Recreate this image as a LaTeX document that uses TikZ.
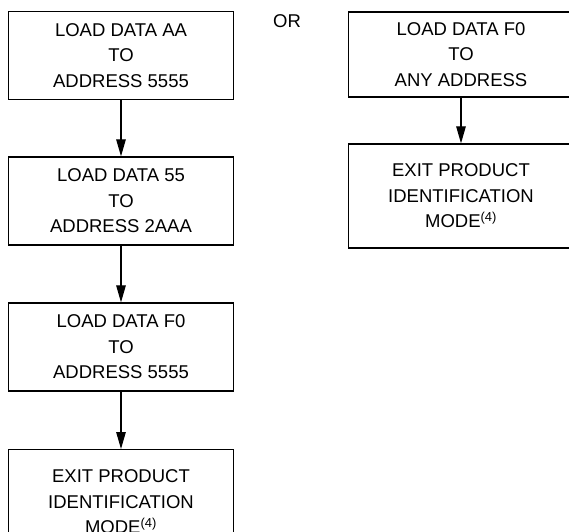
\documentclass[tikz,border=0pt]{standalone}
\usepackage{fontspec}
\setmainfont{Liberation Sans}
\usetikzlibrary{arrows.meta}
\usetikzlibrary{positioning}

\tikzset{
  stepbox/.style={draw, line width=1.3pt, rectangle, align=center,
    minimum width=225pt, minimum height=88pt, inner sep=0pt,
    font=\fontsize{18.5}{25.5}\selectfont},
  tallbox/.style={stepbox, minimum height=104pt},
  flow/.style={line width=1.2pt, -{Triangle[length=17pt, width=9.5pt]}}
}

\begin{document}
\begin{tikzpicture}[x=1pt, y=-1pt]
			\useasboundingbox (0,0) rectangle (569,531);
			
			% left sequence
			\node[stepbox] (loadaa) at (121,55.5) {LOAD DATA AA\\TO\\ADDRESS 5555};
			\node[stepbox] (load55) at (121,201) {LOAD DATA 55\\TO\\ADDRESS 2AAA};
			\node[stepbox] (loadf0) at (121,347) {LOAD DATA F0\\TO\\ADDRESS 5555};
			\node[tallbox, anchor=north] (exitl) at (121,449) {EXIT PRODUCT\\IDENTIFICATION\\MODE\textsuperscript{(4)}};
			
			\node[font=\fontsize{18.5}{22}\selectfont] (or) at (287,21.5) {OR};
			
			% right sequence
			\node[stepbox, minimum height=85pt] (loadany) at (461,54.5) {LOAD DATA F0\\TO\\ANY ADDRESS};
			\node[tallbox] (exitr) at (461,196) {EXIT PRODUCT\\IDENTIFICATION\\MODE\textsuperscript{(4)}};
			
			\draw[flow] (loadaa) -- (load55);
			\draw[flow] (load55) -- (loadf0);
			\draw[flow] (loadf0) -- (exitl);
			\draw[flow] (loadany) -- (exitr);
		\end{tikzpicture}
\end{document}
